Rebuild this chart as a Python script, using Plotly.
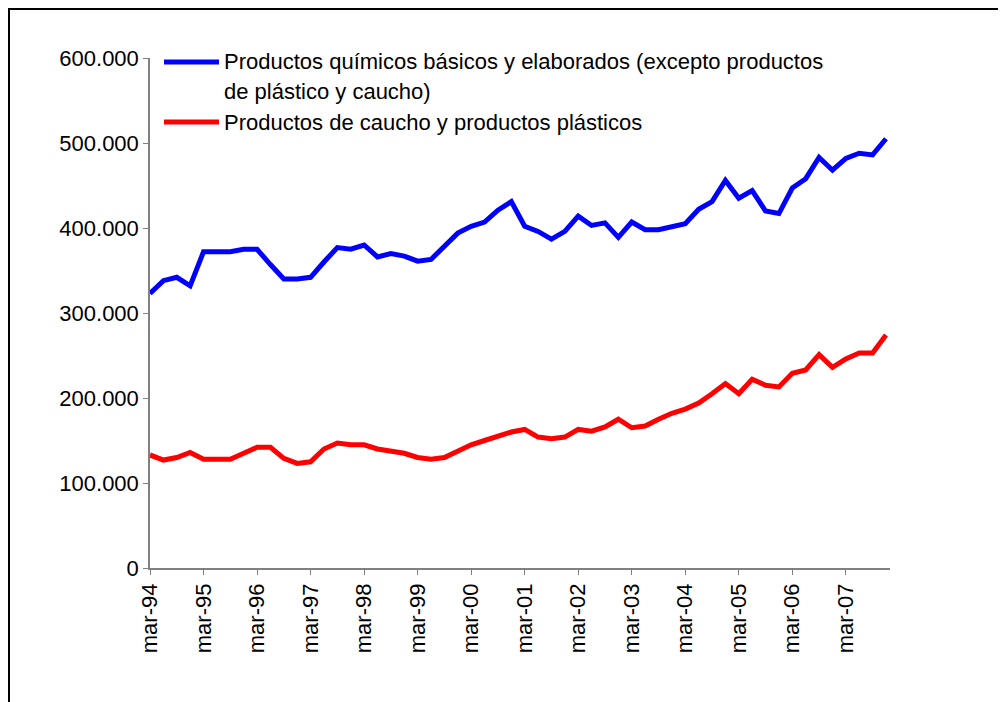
import plotly.graph_objects as go

months = ["mar", "jun", "sep", "dic"]
years = ["94", "95", "96", "97", "98", "99", "00", "01", "02", "03", "04", "05", "06", "07"]
quarters = [f"{m}-{y}" for y in years for m in months]
tick_labels = [f"mar-{y}" for y in years]

series_names = [
    "Productos químicos básicos y elaborados (excepto productos de plástico y caucho)",
    "Productos de caucho y productos plásticos",
]
legend_lines = [
    ["Productos químicos básicos y elaborados (excepto productos", "de plástico y caucho)"],
    ["Productos de caucho y productos plásticos"],
]

quimicos = [
    323000, 338000, 342000, 332000, 372000, 372000, 372000, 375000,
    375000, 357000, 340000, 340000, 342000, 360000, 377000, 375000,
    380000, 366000, 370000, 367000, 361000, 363000, 379000, 394000,
    402000, 407000, 421000, 431000, 402000, 396000, 387000, 396000,
    414000, 403000, 406000, 389000, 407000, 398000, 398000, 402000,
    405000, 422000, 431000, 456000, 435000, 444000, 420000, 417000,
    447000, 458000, 483000, 468000, 482000, 488000, 486000, 505000,
]
caucho = [
    133000, 127000, 130000, 136000, 128000, 128000, 128000, 135000,
    142000, 142000, 129000, 123000, 125000, 140000, 147000, 145000,
    145000, 140000, 137000, 135000, 130000, 128000, 130000, 138000,
    145000, 150000, 155000, 160000, 163000, 154000, 152000, 154000,
    163000, 161000, 166000, 175000, 165000, 167000, 175000, 182000,
    187000, 194000, 205000, 217000, 205000, 222000, 215000, 213000,
    229000, 233000, 251000, 236000, 246000, 253000, 253000, 274000,
]
colors = ["#0000FF", "#FF0000"]

OFF = 8  # page body margin
W, H = 1006 - OFF, 702 - OFF
L, R, T, B = 150 - OFF, 890 - OFF, 58 - OFF, 568 - OFF  # plot area in figure pixels
FONT = "Liberation Sans, Arial, sans-serif"


def px(x):  # page pixel -> paper
    return (x - OFF - L) / (R - L)


def py(y):
    return (B - (y - OFF)) / (B - T)


fig = go.Figure()
for name, vals, col in zip(series_names, [quimicos, caucho], colors):
    fig.add_trace(go.Scatter(
        x=quarters, y=vals, name=name, mode="lines",
        line=dict(color=col, width=5), showlegend=False,
    ))

shapes = []
annotations = []
# Chart border
shapes.append(dict(type="rect", xref="paper", yref="paper",
                   x0=px(9), x1=px(1020), y0=py(720), y1=py(9),
                   line=dict(color="black", width=2), fillcolor="rgba(0,0,0,0)",
                   layer="below"))
# Manual legend
legend_y = [(62, 91), (122,)]
for lines, col, ys in zip(legend_lines, colors, legend_y):
    shapes.append(dict(type="line", xref="paper", yref="paper",
                       x0=px(164), x1=px(219), y0=py(ys[0]), y1=py(ys[0]),
                       line=dict(color=col, width=5)))
    for txt, yy in zip(lines, ys):
        annotations.append(dict(xref="paper", yref="paper", x=px(222), y=py(yy),
                                xanchor="left", yanchor="middle", showarrow=False,
                                text=txt, font=dict(family=FONT, size=22, color="black")))

fig.update_layout(
    width=W, height=H,
    margin=dict(l=L, r=W - R, t=T, b=H - B, pad=0),
    paper_bgcolor="white", plot_bgcolor="white",
    separators=",.",
    font=dict(family=FONT, size=22, color="black"),
    shapes=shapes, annotations=annotations,
    showlegend=False,
)
fig.update_xaxes(
    type="category", categoryorder="array", categoryarray=quarters,
    range=[0, 55.3], tickmode="array", tickvals=tick_labels, ticktext=tick_labels,
    tickangle=-90, ticks="outside", ticklen=5, tickcolor="#808080", tickwidth=1,
    showline=True, linecolor="#808080", linewidth=1.5, showgrid=False, zeroline=False,
    tickfont=dict(family=FONT, size=22, color="black"),
)
fig.update_yaxes(
    range=[0, 600000], tickmode="array", tickvals=[0, 100000, 200000, 300000, 400000, 500000, 600000],
    tickformat=",.0f", ticks="outside", ticklen=5, tickcolor="#808080", tickwidth=1,
    showline=True, linecolor="#808080", linewidth=1.5, showgrid=False, zeroline=False,
    tickfont=dict(family=FONT, size=22, color="black"),
)

fig.write_html("out.html")
